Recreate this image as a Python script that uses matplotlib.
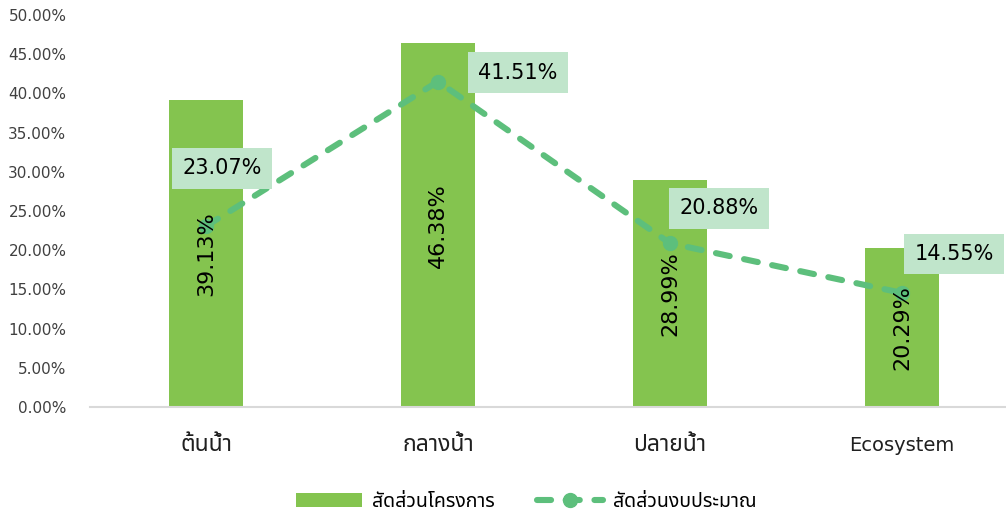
import matplotlib
matplotlib.use("Agg")
import matplotlib.pyplot as plt
from matplotlib.ticker import PercentFormatter
import numpy as np

plt.rcParams['font.family'] = ['DejaVu Sans', 'Noto Sans Thai']

# Data
categories = ['ต้นน้ำ', 'กลางน้ำ', 'ปลายน้ำ', 'Ecosystem']
project_share = [39.13, 46.38, 28.99, 20.29]   # สัดส่วนโครงการ (bars)
budget_share = [23.07, 41.51, 20.88, 14.55]    # สัดส่วนงบประมาณ (line)
series_names = ['สัดส่วนโครงการ', 'สัดส่วนงบประมาณ']

bar_color = '#84C44F'
line_color = '#5DBF7C'
box_color = '#C0E5CB'

fig = plt.figure(figsize=(10.06, 5.14), dpi=100)
ax = fig.add_axes([90 / 1006, 1 - 407 / 514, 928 / 1006, 392 / 514])

x = np.arange(len(categories))
bars = ax.bar(x, project_share, width=0.315, color=bar_color, label=series_names[0], zorder=2)
line, = ax.plot(x, budget_share, color=line_color, linestyle=(0, (2.3, 2.4)), linewidth=4.4,
                dash_capstyle='round', marker='o', markersize=10,
                label=series_names[1], zorder=3)

# bar labels: rotated, centred in bar
for xi, v in zip(x, project_share):
    ax.text(xi, v / 2, f'{v:.2f}%', rotation=90, ha='center', va='center',
            fontsize=16, color='black', zorder=4)

# line labels in boxes
offsets = [(16, 58), (80, 9), (49, 35), (52, 39)]
for xi, v, (dx, dy) in zip(x, budget_share, offsets):
    ax.annotate(f'{v:.2f}%', xy=(xi, v), xytext=(dx, dy), textcoords='offset pixels',
                ha='center', va='center', fontsize=15, color='black', zorder=5,
                bbox=dict(boxstyle='square,pad=0.5', fc=box_color, ec='none'))

ax.set_xlim(-0.5, 3.5)
ax.set_ylim(0, 50)
ax.set_yticks(np.arange(0, 51, 5))
ax.yaxis.set_major_formatter(PercentFormatter(decimals=2))
ax.set_xticks(x)
ax.set_xticklabels(categories, fontsize=14, va='baseline')
for lab in ax.get_xticklabels():
    if not lab.get_text().isascii():
        lab.set_fontsize(16.5)
ax.tick_params(axis='y', length=0, labelsize=11, colors='#404040', pad=17)
ax.tick_params(axis='x', length=0, pad=31.5, colors='#202020')
for s in ['top', 'right', 'left']:
    ax.spines[s].set_visible(False)
ax.spines['bottom'].set_color('#D9D9D9')
ax.spines['bottom'].set_linewidth(1.5)

leg = ax.legend([bars, line], series_names, loc='center', bbox_to_anchor=(0.47, -0.24),
                ncol=2, frameon=False, fontsize=14, handlelength=3.4,
                columnspacing=2.2, handletextpad=0.5, borderpad=0.1)

fig.savefig('out.png', dpi=100)
